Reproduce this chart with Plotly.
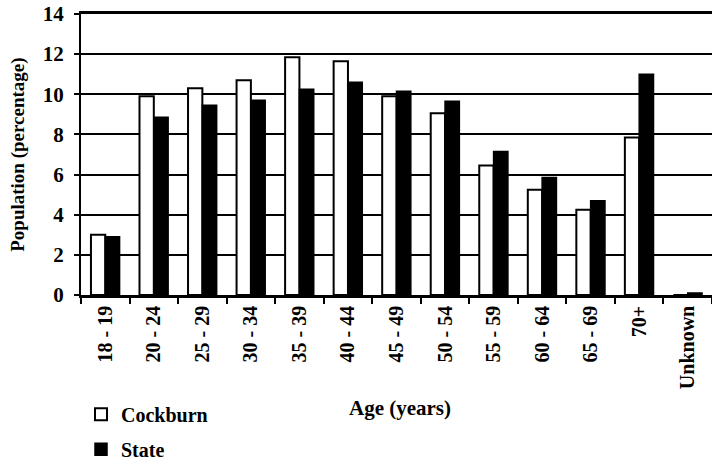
import plotly.graph_objects as go

age_groups = ["18 - 19", "20 - 24", "25 - 29", "30 - 34", "35 - 39", "40 - 44",
              "45 - 49", "50 - 54", "55 - 59", "60 - 64", "65 - 69", "70+", "Unknown"]
cockburn = [3.0, 9.9, 10.3, 10.7, 11.85, 11.65, 9.9, 9.05, 6.45, 5.25, 4.25, 7.85, 0.0]
state = [2.9, 8.85, 9.45, 9.7, 10.25, 10.6, 10.15, 9.65, 7.15, 5.85, 4.7, 11.0, 0.1]

font = "Liberation Serif"

fig = go.Figure()
fig.add_trace(go.Bar(x=age_groups, y=cockburn, name="Cockburn", legendgroup="c",
                     marker=dict(color="white", line=dict(color="black", width=2))))
fig.add_trace(go.Bar(x=age_groups, y=state, name="State", legendgroup="s",
                     marker=dict(color="black", line=dict(color="black", width=1.5))))

fig.update_layout(
    width=712, height=462,
    margin=dict(l=81, r=0, t=14, b=167, autoexpand=False),
    plot_bgcolor="white", paper_bgcolor="white",
    barmode="group", bargap=0.41, bargroupgap=0,
    font=dict(family=font, color="black", size=20),
    legend=dict(x=0.0, y=-0.355, xanchor="left", yanchor="top",
                font=dict(size=20, family=font, weight="bold"),
                itemwidth=30, tracegroupgap=6, bgcolor="rgba(0,0,0,0)"),
    showlegend=True,
    annotations=[
        dict(text="<b>Age (years)</b>", x=0.505, y=-0.402, xref="paper", yref="paper",
             showarrow=False, font=dict(size=21, family=font), xanchor="center", yanchor="middle"),
        dict(text="<b>Population (percentage)</b>", x=-0.101, y=0.5, xref="paper", yref="paper",
             textangle=-90, showarrow=False, font=dict(size=19, family=font),
             xanchor="center", yanchor="middle"),
    ],
)
fig.update_xaxes(
    tickangle=-90, tickfont=dict(size=20, family=font, weight="bold"),
    showline=True, linecolor="black", linewidth=2.5, mirror=True,
    ticks="outside", tickson="boundaries", ticklen=6, tickwidth=2, tickcolor="black",
    automargin=False,
)
fig.update_yaxes(
    range=[0, 14], dtick=2, tickfont=dict(size=21, family=font, weight="bold"),
    showgrid=True, gridcolor="black", gridwidth=2,
    showline=True, linecolor="black", linewidth=2,
    ticks="outside", ticklen=5, tickwidth=2, tickcolor="black",
    zeroline=False, automargin=False, ticklabelstandoff=6,
    ticklabeloverflow="allow",
)

# drop the default body margin so the figure sits at the window's top-left corner
fig.write_html("out.html", config={"displayModeBar": False},
               post_script="document.body.style.margin='0';")
